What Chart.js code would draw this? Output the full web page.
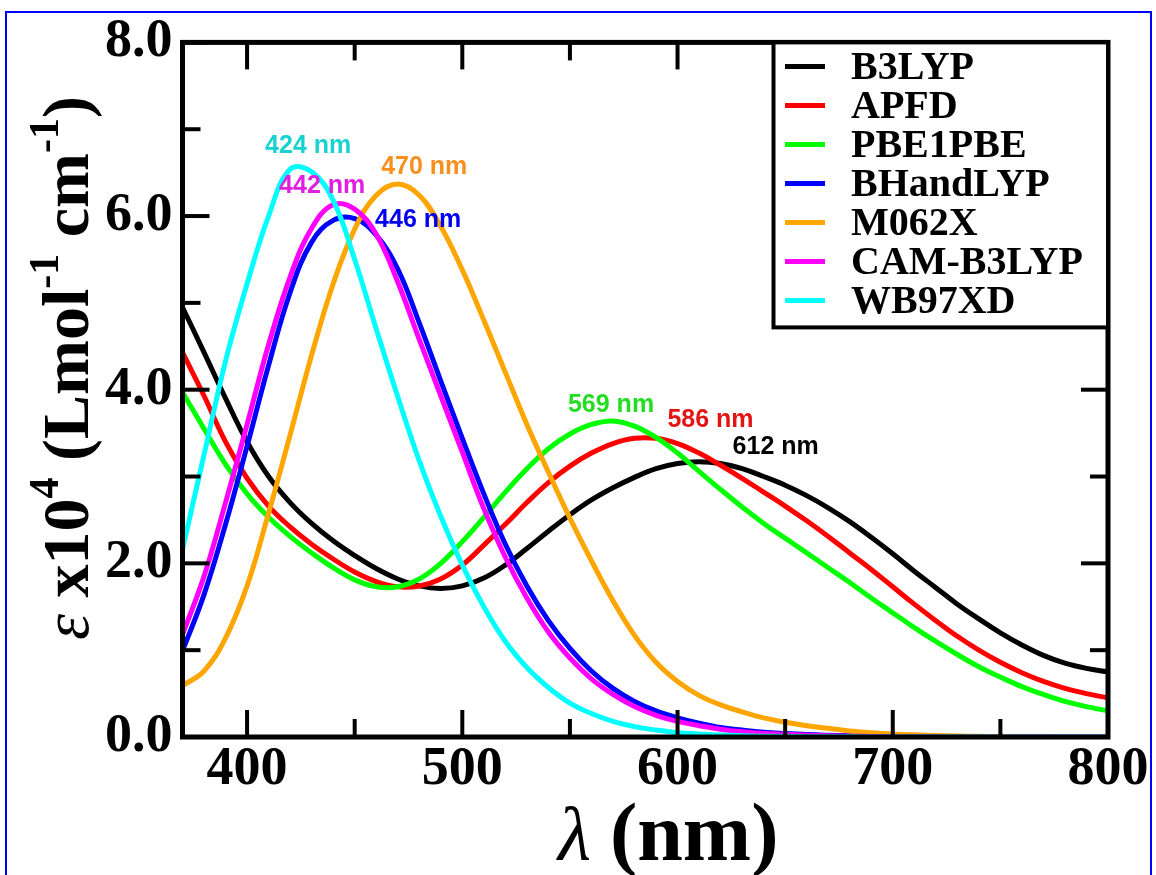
<!DOCTYPE html>
<html>
<head>
<meta charset="utf-8">
<script src="https://cdn.jsdelivr.net/npm/chart.js@4.4.1/dist/chart.umd.min.js"></script>
<style>
    html, body { margin: 0; padding: 0; background: #fff; }
    canvas { display: block; }
</style>
</head>
<body>
<canvas id="spectraChart" width="1156" height="875"></canvas>
<script>
// wavelength grid (nm) and absorption values (x10^4 L mol-1 cm-1)
const wavelengths = [370, 380, 390, 400, 410, 420, 430, 440, 450, 460, 470, 480, 490, 500, 510,
    520, 530, 540, 550, 560, 570, 580, 590, 600, 610, 620, 630, 640, 650, 660, 670, 680, 690,
    700, 710, 720, 730, 740, 750, 760, 770, 780, 790, 800];

const b3lyp = [4.95, 4.43, 3.90, 3.40, 3.00, 2.70, 2.46, 2.26, 2.09, 1.94, 1.82, 1.74, 1.71, 1.74, 1.83,
    1.98, 2.17, 2.37, 2.56, 2.73, 2.87, 2.99, 3.09, 3.15, 3.17, 3.15, 3.09, 3.00, 2.90, 2.78, 2.64, 2.48, 2.30,
    2.11, 1.91, 1.72, 1.53, 1.36, 1.20, 1.06, 0.94, 0.85, 0.79, 0.75];
const apfd = [4.43, 3.93, 3.40, 2.98, 2.66, 2.42, 2.22, 2.05, 1.90, 1.79, 1.73, 1.74, 1.82, 1.98, 2.21,
    2.45, 2.70, 2.93, 3.12, 3.27, 3.38, 3.44, 3.44, 3.38, 3.27, 3.13, 2.98, 2.82, 2.66, 2.49, 2.31, 2.12, 1.93,
    1.73, 1.53, 1.34, 1.16, 1.00, 0.86, 0.74, 0.64, 0.56, 0.50, 0.45];
const pbe1pbe = [3.97, 3.55, 3.14, 2.80, 2.53, 2.31, 2.12, 1.95, 1.81, 1.73, 1.73, 1.82, 2.00, 2.25, 2.53,
    2.82, 3.09, 3.32, 3.49, 3.60, 3.64, 3.58, 3.45, 3.27, 3.06, 2.85, 2.65, 2.46, 2.29, 2.12, 1.95, 1.78, 1.60,
    1.43, 1.26, 1.10, 0.95, 0.81, 0.69, 0.58, 0.49, 0.41, 0.35, 0.30];
const bhandlyp = [0.99, 1.64, 2.45, 3.35, 4.28, 5.12, 5.70, 5.95, 5.97, 5.78, 5.39, 4.77, 4.10, 3.44, 2.80,
    2.22, 1.74, 1.34, 1.02, 0.76, 0.56, 0.41, 0.30, 0.22, 0.16, 0.11, 0.08, 0.055, 0.04, 0.028, 0.02, 0.014, 0.01,
    0.007, 0.005, 0.003, 0.002, 0.001, 0.001, 0, 0, 0, 0, 0];
const m062x = [0.59, 0.76, 1.14, 1.74, 2.58, 3.48, 4.40, 5.22, 5.85, 6.24, 6.37, 6.24, 5.88, 5.38, 4.80,
    4.20, 3.60, 3.05, 2.52, 2.03, 1.57, 1.17, 0.86, 0.64, 0.48, 0.37, 0.29, 0.22, 0.17, 0.13, 0.10, 0.07, 0.05,
    0.035, 0.025, 0.018, 0.012, 0.008, 0.005, 0.003, 0.002, 0.001, 0.001, 0];
const camb3lyp = [1.18, 1.85, 2.70, 3.60, 4.52, 5.30, 5.86, 6.13, 6.08, 5.79, 5.24, 4.58, 3.93, 3.28, 2.63,
    2.07, 1.60, 1.21, 0.91, 0.67, 0.49, 0.35, 0.25, 0.18, 0.13, 0.09, 0.06, 0.04, 0.03, 0.02, 0.013, 0.009, 0.006,
    0.004, 0.003, 0.002, 0.001, 0.001, 0, 0, 0, 0, 0, 0];
const wb97xd = [2.16, 3.25, 4.33, 5.22, 6.00, 6.54, 6.51, 6.18, 5.50, 4.70, 3.92, 3.18, 2.54, 1.98, 1.50,
    1.10, 0.80, 0.57, 0.39, 0.27, 0.18, 0.12, 0.08, 0.05, 0.035, 0.022, 0.015, 0.01, 0.006, 0.004, 0.003, 0.002, 0.001,
    0.001, 0, 0, 0, 0, 0, 0, 0, 0, 0, 0];

const seriesNames = ['B3LYP', 'APFD', 'PBE1PBE', 'BHandLYP', 'M062X', 'CAM-B3LYP', 'WB97XD'];
const seriesValues = [b3lyp, apfd, pbe1pbe, bhandlyp, m062x, camb3lyp, wb97xd];
const seriesColors = ['#000000', '#ff0000', '#00ff00', '#0000ff', '#ffa500', '#ff00ff', '#00ffff'];

// peak annotations: text, position in data units (nm, value), colour
const peakLabels = ['424 nm', '442 nm', '446 nm', '470 nm', '569 nm', '586 nm', '612 nm'];
const peakX = [428.4, 434.9, 479.5, 482.3, 569.1, 615.3, 645.6];
const peakY = [6.80, 6.34, 5.95, 6.56, 3.82, 3.65, 3.34];
const peakColors = ['#18d2d2', '#e020e0', '#0000f0', '#fa8f1e', '#22dd22', '#e41414', '#000000'];

const xTicks = [400, 500, 600, 700, 800];
const xMinorTicks = [450, 550, 650, 750];
const yTicks = [0, 2, 4, 6, 8];
const yMinorTicks = [1, 3, 5, 7];

const SERIF = '"Liberation Serif", "Times New Roman", serif';

const decorations = {
    id: 'decorations',
    beforeDraw(chart) {
        const c = chart.ctx;
        c.save();
        c.fillStyle = '#fff';
        c.fillRect(0, 0, chart.width, chart.height);
        c.strokeStyle = '#0000ff';
        c.lineWidth = 2;
        c.strokeRect(6, 12, chart.width - 11, chart.height + 20);
        c.restore();
    },
    afterDatasetsDraw(chart) {
        const c = chart.ctx;
        const a = chart.chartArea;
        const { x, y } = chart.scales;
        c.save();

        // peak labels
        c.font = 'bold 25px "Liberation Sans", Arial, sans-serif';
        c.textAlign = 'center';
        c.textBaseline = 'middle';
        peakLabels.forEach((t, i) => {
            c.fillStyle = peakColors[i];
            c.fillText(t, x.getPixelForValue(peakX[i]), y.getPixelForValue(peakY[i]));
        });

        // inward tick marks on all four sides
        c.strokeStyle = '#000';
        c.lineWidth = 4;
        const tick = (x1, y1, x2, y2) => { c.beginPath(); c.moveTo(x1, y1); c.lineTo(x2, y2); c.stroke(); };
        xTicks.forEach(v => { const p = x.getPixelForValue(v); tick(p, a.bottom, p, a.bottom - 27); tick(p, a.top, p, a.top + 27); });
        xMinorTicks.forEach(v => { const p = x.getPixelForValue(v); tick(p, a.bottom, p, a.bottom - 18); tick(p, a.top, p, a.top + 18); });
        yTicks.forEach(v => { const p = y.getPixelForValue(v); tick(a.left, p, a.left + 27, p); tick(a.right, p, a.right - 27, p); });
        yMinorTicks.forEach(v => { const p = y.getPixelForValue(v); tick(a.left, p, a.left + 18, p); tick(a.right, p, a.right - 18, p); });

        // plot frame
        c.lineWidth = 5;
        c.strokeRect(a.left, a.top, a.right - a.left, a.bottom - a.top);

        // legend box, top right corner of the frame
        const lx = 773.5;
        c.fillStyle = '#fff';
        c.fillRect(lx, a.top, a.right - lx, 285);
        c.lineWidth = 4;
        c.strokeRect(lx, a.top, a.right - lx, 285);
        c.font = 'bold 40px ' + SERIF;
        c.textAlign = 'left';
        c.textBaseline = 'middle';
        chart.data.datasets.forEach((ds, i) => {
            const ly = a.top + 24 + i * 39;
            c.strokeStyle = ds.borderColor;
            c.lineWidth = 5;
            tick(785, ly, 825, ly);
            c.fillStyle = '#000';
            c.fillText(ds.label, 851, ly + 2);
        });

        // x axis title
        c.textBaseline = 'alphabetic';
        c.fillStyle = '#000';
        const lam = 'λ', unit = '(nm)';
        c.font = 'italic 76px ' + SERIF;
        const wl = c.measureText(lam).width;
        c.font = 'bold 82px ' + SERIF;
        const wu = c.measureText(unit).width;
        const gap = 19;
        const sx = (a.left + a.right) / 2 + 23 - (wl + gap + wu) / 2;
        c.font = 'italic 76px ' + SERIF;
        c.fillText(lam, sx, 860);
        c.font = 'bold 82px ' + SERIF;
        c.fillText(unit, sx + wl + gap, 860);

        // y axis title with superscripts, rotated
        const big = 'bold 66px ' + SERIF, sup = 'bold 42px ' + SERIF;
        const parts = [
            { t: 'ε', f: 'italic 66px ' + SERIF, r: 0 },
            { t: ' x10', f: big, r: 0 },
            { t: '4', f: sup, r: 30 },
            { t: ' (Lmol', f: big, r: 0 },
            { t: '-1', f: sup, r: 30 },
            { t: ' cm', f: big, r: 0 },
            { t: '-1', f: sup, r: 30 },
            { t: ')', f: big, r: 0 }
        ];
        let total = 0;
        parts.forEach(p => { c.font = p.f; p.w = c.measureText(p.t).width; total += p.w; });
        c.translate(88, 368);
        c.rotate(-Math.PI / 2);
        let px = -total / 2;
        parts.forEach(p => { c.font = p.f; c.fillText(p.t, px, -p.r); px += p.w; });

        c.restore();
    }
};

const chart = new Chart(document.getElementById('spectraChart').getContext('2d'), {
    type: 'line',
    data: {
        datasets: seriesNames.map((name, i) => ({
            label: name,
            data: wavelengths.map((w, j) => ({ x: w, y: seriesValues[i][j] })),
            borderColor: seriesColors[i],
            borderWidth: 5,
            pointRadius: 0,
            tension: 0.4,
            fill: false,
            clip: 0,
            order: seriesNames.length - i
        }))
    },
    options: {
        responsive: false,
        animation: false,
        devicePixelRatio: 1,
        layout: { padding: { left: 0, top: 40, right: 48, bottom: 0 } },
        plugins: { legend: { display: false }, tooltip: { enabled: false } },
        scales: {
            x: {
                type: 'linear',
                min: 370,
                max: 800,
                grid: { display: false, drawTicks: false },
                border: { display: false },
                ticks: { color: '#000', font: { family: SERIF, size: 54, weight: 'bold' }, padding: 1, autoSkip: false, maxRotation: 0 },
                afterBuildTicks: s => { s.ticks = xTicks.map(v => ({ value: v })); },
                afterFit: s => { s.height = 138; }
            },
            y: {
                min: 0,
                max: 8,
                grid: { display: false, drawTicks: false },
                border: { display: false },
                ticks: { color: '#000', stepSize: 2, font: { family: SERIF, size: 54, weight: 'bold' }, padding: 10,
                    callback: v => v.toFixed(1) },
                afterFit: s => { s.width = 182.5; }
            }
        }
    },
    plugins: [decorations]
});
</script>
</body>
</html>
